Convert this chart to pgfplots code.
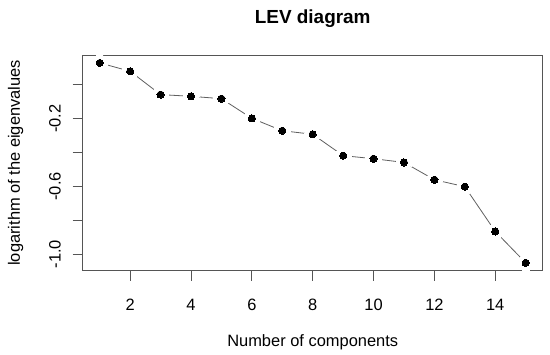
\documentclass[border=0pt]{standalone}
\usepackage{pgfplots}
\pgfplotsset{compat=1.18}
\usepackage{fontspec}
\setmainfont{Liberation Sans}
\definecolor{boxgray}{HTML}{555555}
\definecolor{linegray}{HTML}{606060}
\begin{document}
\begin{tikzpicture}[x=1bp,y=1bp]
\useasboundingbox (0,0) rectangle (550,354);
\begin{axis}[
  at={(82.7bp,83.3bp)}, anchor=south west,
  scale only axis, width=460bp, height=215.7bp,
  xmin=0.44, xmax=15.56, ymin=-1.0976, ymax=0.1746,
  axis on top,
  axis line style={boxgray, line width=0.9bp},
  tick style={boxgray, line width=0.9bp},
  tick align=outside, major tick length=10bp,
  xtick={2,4,...,14},
  ytick={-1,-0.8,-0.6,-0.4,-0.2,0},
  yticklabels={-1.0,,-0.6,,-0.2,},
  xtick pos=bottom, ytick pos=left,
  tick label style={font=\fontsize{16.5}{19}\selectfont, inner sep=0pt},
  /pgf/number format/assume math mode=true,
  xticklabel style={anchor=base, yshift=-29.6bp},
  yticklabel style={rotate=90, anchor=base},
  yticklabel shift=12bp,
  xlabel={Number of components},
  ylabel={logarithm of the eigenvalues},
  title={LEV diagram},
  xlabel style={at={(axis description cs:0.5,-0.3523)}, anchor=base, font=\fontsize{16.5}{19}\selectfont, inner sep=0pt},
  ylabel style={at={(axis description cs:-0.1363,0.5)}, rotate=0, anchor=base, font=\fontsize{16.5}{19}\selectfont, inner sep=0pt},
  title style={at={(axis description cs:0.5,1.12)}, anchor=base, font=\fontsize{19}{22}\selectfont\bfseries, inner sep=0pt},
]
\pgfplotstableread{
x y
1 0.128
2 0.0785
3 -0.059
4 -0.069
5 -0.083
6 -0.199
7 -0.272
8 -0.293
9 -0.419
10 -0.437
11 -0.459
12 -0.561
13 -0.602
14 -0.866
15 -1.051
}\lev
\addplot[linegray, line width=0.8bp] table {\lev};
\addplot[only marks, mark=*, mark size=8bp, mark options={fill=white, draw=white, line width=0pt}] table {\lev};
\addplot[only marks, mark=*, mark size=3.6bp, mark options={fill=black, draw=black, line width=0pt}] table {\lev};
\end{axis}
\end{tikzpicture}
\end{document}
